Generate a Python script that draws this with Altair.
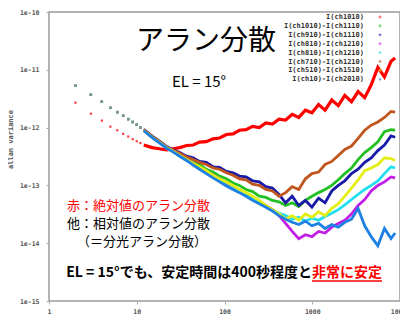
import altair as alt
import pandas as pd

# ---------------- data ----------------
SERIES = ["s1", "s2", "s3", "s4", "s5", "s6", "s7", "s8"]
LEGEND_LABELS = [
    "I(ch1010)",
    "I(ch1010)-I(ch1110)",
    "I(ch910)-I(ch1110)",
    "I(ch810)-I(ch1210)",
    "I(ch810)-I(ch1210)",
    "I(ch710)-I(ch1210)",
    "I(ch510)-I(ch1510)",
    "I(ch10)-I(ch2010)",
]
COLORS = ["#ff0000", "#22c022", "#1a1aa8", "#c21ee6",
          "#22dff0", "#c0561e", "#e4ee12", "#1e80e2"]

# early integer-tau samples (sparse dots)
TAU_EARLY = [2, 3, 4, 5, 6, 7, 8, 9, 10, 11]
RED_EARLY = [2.7e-12, 1.74e-12, 1.32e-12, 1.04e-12, 9.0e-13, 7.8e-13, 7.0e-13, 6.3e-13, 5.8e-13, 5.4e-13]
REL_EARLY = [5.3e-12, 3.7e-12, 2.8e-12, 2.2e-12, 1.85e-12, 1.6e-12, 1.4e-12, 1.25e-12, 1.12e-12, 1.0e-12]

# dense part (drawn as lines)
TAU = [12, 15, 18, 22, 26, 31, 37, 44, 52, 62, 74, 88, 105, 125, 148, 176, 209, 249, 296, 352,
       418, 497, 591, 702, 835, 992, 1180, 1400, 1670, 1980, 2350, 2800, 3330, 3960, 4700,
       5590, 6650, 7900, 8800]

RED = [5.0e-13, 4.5e-13, 4.3e-13, 4.1e-13, 4.3e-13,
       4.5e-13, 4.9e-13, 5.0e-13, 5.6e-13, 5.7e-13,
       6.4e-13, 6.6e-13, 7.6e-13, 7.8e-13, 9.0e-13,
       9.2e-13, 1.05e-12, 1.0e-12, 1.2e-12, 1.15e-12,
       1.4e-12, 1.35e-12, 1.7e-12, 1.5e-12, 2.0e-12,
       1.8e-12, 2.5e-12, 2.0e-12, 3.0e-12, 2.4e-12,
       3.6e-12, 2.8e-12, 4.2e-12, 3.3e-12, 5.5e-12,
       1.1e-11, 7.5e-12, 1.4e-11, 1.6e-11]
GREEN = [9.0e-13, 6.9e-13, 5.7e-13, 4.5e-13, 3.9e-13,
         3.4e-13, 2.9e-13, 2.5e-13, 2.3e-13, 1.9e-13,
         1.7e-13, 1.45e-13, 1.3e-13, 1.1e-13, 1.0e-13,
         8.5e-14, 7.8e-14, 6.5e-14, 6.2e-14, 5.5e-14,
         5.2e-14, 4.5e-14, 5.0e-14, 4.3e-14, 5.5e-14,
         6.5e-14, 7.5e-14, 8.5e-14, 1.0e-13, 1.25e-13,
         1.6e-13, 2.0e-13, 2.8e-13, 3.7e-13, 4.5e-13,
         5.7e-13, 8.5e-13, 9.2e-13, 9.0e-13]
BLUE = [9.3e-13, 7.1e-13, 5.9e-13, 4.7e-13, 4.1e-13,
        3.7e-13, 3.2e-13, 3.0e-13, 2.6e-13, 2.5e-13,
        2.1e-13, 2.05e-13, 1.75e-13, 1.65e-13, 1.45e-13,
        1.4e-13, 1.2e-13, 1.15e-13, 9.5e-14, 9.0e-14,
        7.0e-14, 5.0e-14, 6.5e-14, 4.5e-14, 5.5e-14,
        4.2e-14, 6.0e-14, 5.0e-14, 8.0e-14, 1.0e-13,
        1.2e-13, 1.6e-13, 1.9e-13, 2.5e-13, 3.0e-13,
        4.0e-13, 5.0e-13, 7.2e-13, 6.8e-13]
MAGENTA = [9.0e-13, 6.8e-13, 5.6e-13, 4.5e-13, 3.9e-13,
           3.3e-13, 2.8e-13, 2.4e-13, 2.0e-13, 1.75e-13,
           1.5e-13, 1.3e-13, 1.1e-13, 9.5e-14, 8.5e-14,
           7.2e-14, 6.2e-14, 5.2e-14, 4.5e-14, 3.8e-14,
           3.0e-14, 2.2e-14, 1.6e-14, 1.2e-14, 1.4e-14,
           1.3e-14, 1.6e-14, 1.5e-14, 1.9e-14, 2.2e-14,
           2.5e-14, 3.2e-14, 4.5e-14, 5.7e-14, 8.0e-14,
           1.0e-13, 1.15e-13, 1.4e-13, 1.35e-13]
CYAN = [8.9e-13, 6.7e-13, 5.5e-13, 4.4e-13, 3.8e-13,
        3.2e-13, 2.7e-13, 2.3e-13, 1.95e-13, 1.65e-13,
        1.4e-13, 1.2e-13, 1.0e-13, 8.8e-14, 7.8e-14,
        6.8e-14, 5.8e-14, 5.0e-14, 4.3e-14, 3.8e-14,
        3.3e-14, 3.0e-14, 2.6e-14, 2.8e-14, 2.4e-14,
        2.7e-14, 2.5e-14, 2.9e-14, 3.3e-14, 3.8e-14,
        4.6e-14, 5.7e-14, 7.0e-14, 8.5e-14, 1.0e-13,
        1.2e-13, 1.6e-13, 2.1e-13, 2.0e-13]
BROWN = [9.2e-13, 7.0e-13, 5.8e-13, 4.6e-13, 4.0e-13,
         3.6e-13, 3.1e-13, 2.8e-13, 2.5e-13, 2.3e-13,
         2.0e-13, 1.9e-13, 1.65e-13, 1.5e-13, 1.3e-13,
         1.25e-13, 1.05e-13, 1.0e-13, 8.5e-14, 8.0e-14,
         6.5e-14, 7.5e-14, 9.5e-14, 8.5e-14, 1.3e-13,
         1.6e-13, 1.7e-13, 2.3e-13, 2.6e-13, 3.3e-13,
         4.2e-13, 4.8e-13, 6.5e-13, 9.0e-13, 1.1e-12,
         1.25e-12, 1.5e-12, 1.9e-12, 1.85e-12]
YELLOW = [9.0e-13, 6.8e-13, 5.6e-13, 4.5e-13, 3.9e-13,
          3.3e-13, 2.8e-13, 2.4e-13, 2.1e-13, 1.8e-13,
          1.5e-13, 1.3e-13, 1.15e-13, 1.0e-13, 8.5e-14,
          7.5e-14, 6.5e-14, 5.5e-14, 4.5e-14, 3.8e-14,
          3.2e-14, 2.6e-14, 3.0e-14, 2.5e-14, 3.2e-14,
          2.8e-14, 3.5e-14, 3.0e-14, 4.0e-14, 4.8e-14,
          6.5e-14, 9.0e-14, 1.25e-13, 1.8e-13, 2.0e-13,
          2.3e-13, 3.0e-13, 2.9e-13, 2.7e-13]
DODGER = [8.9e-13, 6.7e-13, 5.5e-13, 4.4e-13, 3.8e-13,
          3.2e-13, 2.7e-13, 2.25e-13, 1.9e-13, 1.6e-13,
          1.35e-13, 1.15e-13, 9.8e-14, 8.5e-14, 7.5e-14,
          6.5e-14, 5.5e-14, 4.8e-14, 4.2e-14, 3.6e-14,
          3.0e-14, 2.6e-14, 2.3e-14, 2.1e-14, 2.4e-14,
          2.0e-14, 2.2e-14, 1.8e-14, 2.1e-14, 1.9e-14,
          2.3e-14, 2.6e-14, 4.0e-14, 2.0e-14, 1.3e-14,
          9.0e-15, 1.8e-14, 1.2e-14, 1.5e-14]

SERIES_VALUES = [RED, GREEN, BLUE, MAGENTA, CYAN, BROWN, YELLOW, DODGER]

# ---------------- tables ----------------
line_rows = []
for s, vals in zip(SERIES, SERIES_VALUES):
    for t, v in zip(TAU, vals):
        line_rows.append({"series": s, "tau": t, "value": v})
lines_df = pd.DataFrame(line_rows)
red_line_df = lines_df[lines_df.series == "s1"]
rel_line_df = lines_df[lines_df.series != "s1"]

red_dots_df = pd.DataFrame({"series": "s1", "tau": TAU_EARLY, "value": RED_EARLY})
rel_rows = []
for s in SERIES[1:]:
    for t, v in zip(TAU_EARLY, REL_EARLY):
        rel_rows.append({"series": s, "tau": t, "value": v})
rel_dots_df = pd.DataFrame(rel_rows)

legend_df = pd.DataFrame({"row": list(range(8)), "label": LEGEND_LABELS, "series": SERIES})

color_scale = alt.Scale(domain=SERIES, range=COLORS)
x_enc = alt.X("tau:Q",
              scale=alt.Scale(type="log", domain=[1, 10000]),
              axis=alt.Axis(values=[1, 10, 100, 1000, 10000], format="d",
                            title="time[s]", titleFont="DejaVu Sans Mono",
                            titleFontSize=7, titleFontWeight="bold", titleColor="#555",
                            titleY=19,
                            labelFont="DejaVu Sans Mono", labelFontSize=6.5,
                            labelFontWeight="bold", labelColor="#555",
                            labelFlush=False, labelOverlap=False, labelPadding=4,
                            tickSize=3, tickColor="#aaa", domain=False, grid=False))
y_enc = alt.Y("value:Q",
              scale=alt.Scale(type="log", domain=[1e-15, 1e-10]),
              axis=alt.Axis(values=[1e-15, 1e-14, 1e-13, 1e-12, 1e-11, 1e-10],
                            labelExpr="'1e-' + round(-log(datum.value)/LN10)",
                            title="allan variance", titleFont="DejaVu Sans Mono",
                            titleFontSize=7, titleFontWeight="bold", titleColor="#555",
                            titleX=-36, titleY=127,
                            labelFont="DejaVu Sans Mono", labelFontSize=6.5,
                            labelFontWeight="bold", labelColor="#555",
                            labelFlush=False, labelOverlap=False, labelPadding=7,
                            tickSize=3, tickColor="#aaa", domain=False, grid=False))
col_enc = alt.Color("series:N", scale=color_scale, legend=None)

red_line = alt.Chart(red_line_df).mark_line(strokeWidth=3.2).encode(
    x=x_enc, y=y_enc, color=col_enc)
rel_lines = alt.Chart(rel_line_df).mark_line(strokeWidth=2.8).encode(
    x=x_enc, y=y_enc, color=col_enc, detail="series:N")

rel_dots = alt.Chart(rel_dots_df).mark_square(size=6, opacity=0.45).encode(
    x=x_enc, y=y_enc, color=col_enc)
red_dots = alt.Chart(red_dots_df).mark_square(size=5, opacity=0.75).encode(
    x=x_enc, y=y_enc, color=col_enc)

leg_text = alt.Chart(legend_df).transform_calculate(py="5 + 8.9*datum.row").mark_text(
    align="right", baseline="middle", font="DejaVu Sans Mono", fontSize=7,
    fontWeight="bold", color="#333").encode(
    x=alt.value(315), y=alt.Y("py:Q", scale=None, axis=None), text="label:N")
leg_mark = alt.Chart(legend_df).transform_calculate(py="5 + 8.9*datum.row").mark_point(
    shape="cross", filled=True, size=8).encode(
    x=alt.value(331), y=alt.Y("py:Q", scale=None, axis=None), color=col_enc)


def note(txt, x, y, size, color="black", align="left", weight="normal"):
    return alt.Chart(pd.DataFrame({"t": [txt]})).mark_text(
        align=align, baseline="middle", font="Noto Sans CJK JP", fontSize=size,
        fontWeight=weight, color=color).encode(
        text="t:N", x=alt.value(x), y=alt.value(y))


title = note("アラン分散", 157, 30, 28, align="center")
el = note("EL = 15°", 150, 70, 15, align="center")
n1 = note("赤：絶対値のアラン分散", 18, 194, 13, color="#ff0000")
n2 = note("他：相対値のアラン分散", 18, 212, 13)
n3 = note("（＝分光アラン分散）", 28, 230, 13)
b1 = note("EL = 15°でも、安定時間は400秒程度と", 263, 261, 14, align="right", weight="bold")
b2 = note("非常に安定", 263, 261, 14, color="#ff0000", weight="bold")
uline = alt.Chart(pd.DataFrame({"a": [0]})).mark_rule(color="#ff0000", strokeWidth=1.3).encode(
    x=alt.value(263), x2=alt.value(333), y=alt.value(269))

chart = alt.layer(
    red_dots, rel_dots, red_line, rel_lines, leg_text, leg_mark,
    title, el, n1, n2, n3, b1, b2, uline
).properties(
    width=351, height=289,
    padding={"left": 41, "top": 4, "right": 0, "bottom": 15},
    autosize=alt.AutoSizeParams(type="none"),
    background="white",
).configure_view(stroke="#9a9a9a", strokeWidth=1.5)

chart.save("out.html", embed_options={"renderer": "svg", "actions": False})
